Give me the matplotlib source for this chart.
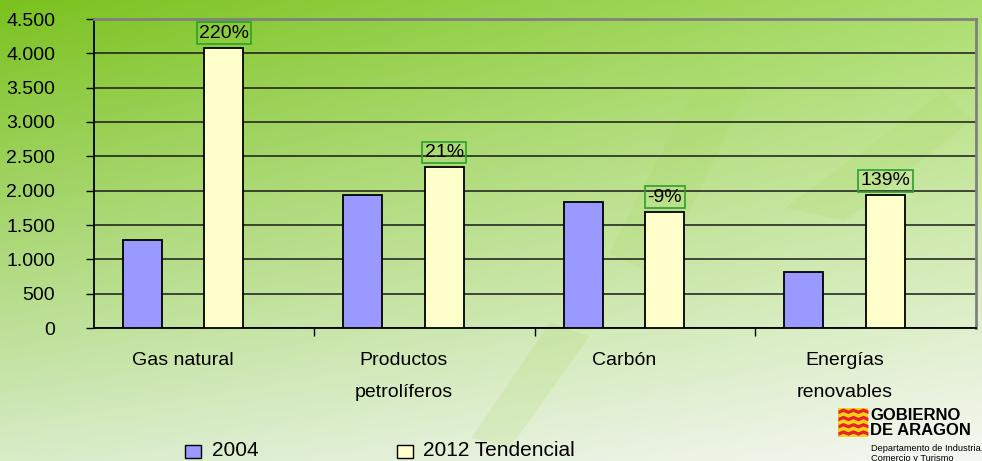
#!/usr/bin/env python3
"""Consumo de energia primaria: 2004 frente a 2012 tendencial."""

import matplotlib

matplotlib.use("Agg")
import matplotlib.pyplot as plt
import numpy as np
from matplotlib.patches import Rectangle, Polygon

plt.rcParams["font.family"] = ["Liberation Sans", "DejaVu Sans"]

CATEGORIES = ["Gas natural", "Productos\npetrolíferos", "Carbón", "Energías\nrenovables"]
VALUES_2004 = [1280, 1940, 1840, 810]
VALUES_2012 = [4080, 2340, 1690, 1930]
CHANGE_LABELS = ["220%", "21%", "-9%", "139%"]
SERIES_NAMES = ["2004", "2012 Tendencial"]
Y_TICKS = [0, 500, 1000, 1500, 2000, 2500, 3000, 3500, 4000, 4500]

COLOR_2004 = "#9999ff"
COLOR_2012 = "#ffffcc"
BOX_GREEN = "#2e9e2e"


def draw_background(fig):
    bg = fig.add_axes([0, 0, 1, 1], zorder=-10)
    h, w = 200, 400
    yy, xx = np.mgrid[0:1:h * 1j, 0:1:w * 1j]
    tl = np.array([122, 194, 30]) / 255
    tr = np.array([172, 222, 110]) / 255
    bl = np.array([216, 236, 200]) / 255
    br = np.array([245, 247, 243]) / 255
    img = (
        (1 - xx)[..., None] * (1 - yy)[..., None] * tl
        + xx[..., None] * (1 - yy)[..., None] * tr
        + (1 - xx)[..., None] * yy[..., None] * bl
        + xx[..., None] * yy[..., None] * br
    )
    bg.imshow(img, aspect="auto", extent=[0, 1, 0, 1], origin="upper")
    # faint decorative strokes
    for pts in [
        [(0.62, 0.45), (0.72, 0.86), (0.76, 0.80), (0.67, 0.40)],
        [(0.80, 0.55), (0.96, 0.80), (0.99, 0.74), (0.86, 0.52)],
        [(0.48, 0.05), (0.56, 0.30), (0.60, 0.27), (0.52, 0.03)],
    ]:
        bg.add_patch(Polygon(pts, closed=True, facecolor="#a8d860", alpha=0.18, lw=0))
    bg.set_xlim(0, 1)
    bg.set_ylim(0, 1)
    bg.axis("off")


def draw_logo(fig):
    lg = fig.add_axes([838 / 982, 1 - 437 / 461, 30 / 982, 29 / 461])
    lg.add_patch(Rectangle((0, 0), 1, 1, facecolor="#f7d117", lw=0))
    xs = np.linspace(0, 1, 7)
    for k in range(4):
        base = 0.06 + k * 0.25
        zig = base + 0.07 * (np.arange(7) % 2)
        lg.fill_between(xs, zig, zig + 0.12, color="#e3242b", lw=0)
    lg.set_xlim(0, 1)
    lg.set_ylim(0, 1)
    lg.axis("off")
    fig.text(870 / 982, 1 - 415 / 461, "GOBIERNO", fontsize=12, fontweight="bold",
             va="center", ha="left", color="black")
    fig.text(870 / 982, 1 - 430 / 461, "DE ARAGON", fontsize=12, fontweight="bold",
             va="center", ha="left", color="black")
    fig.text(871 / 982, 1 - 448 / 461, "Departamento de Industria,", fontsize=6.7,
             va="center", ha="left", color="black")
    fig.text(871 / 982, 1 - 458 / 461, "Comercio y Turismo", fontsize=6.7,
             va="center", ha="left", color="black")


def main():
    fig = plt.figure(figsize=(9.82, 4.61), dpi=100)
    draw_background(fig)

    ax = fig.add_axes([94 / 982, 1 - 328 / 461, (976 - 94) / 982, (328 - 19) / 461])
    ax.patch.set_alpha(0)

    x = np.arange(len(CATEGORIES))
    offset = 0.185
    width = 0.177
    ax.bar(x - offset, VALUES_2004, width, color=COLOR_2004, edgecolor="black",
           linewidth=1.3, zorder=3)
    bars = ax.bar(x + offset, VALUES_2012, width, color=COLOR_2012, edgecolor="black",
                  linewidth=1.3, zorder=3)

    for bar, label in zip(bars, CHANGE_LABELS):
        ax.annotate(
            label,
            (bar.get_x() + bar.get_width() / 2, bar.get_height()),
            xytext=(0, 4.5),
            textcoords="offset points",
            ha="center",
            va="bottom",
            fontsize=14,
            bbox=dict(boxstyle="square,pad=0.12", facecolor="none", edgecolor=BOX_GREEN, lw=1.2),
            zorder=4,
        )

    ax.set_ylim(0, 4500)
    ax.set_xlim(-0.404, 3.596)
    ax.set_yticks(Y_TICKS)
    ax.set_yticklabels([f"{v:,}".replace(",", ".") for v in Y_TICKS], fontsize=14)
    ax.yaxis.grid(True, color="#1a1a1a", linewidth=1.1, zorder=1)
    ax.set_axisbelow(True)

    ax.set_xticks(x)
    ax.set_xticklabels(CATEGORIES, fontsize=14, linespacing=2.15)
    ax.tick_params(axis="x", length=0, pad=17)
    ax.set_xticks(x[:-1] + 0.594, minor=True)
    ax.tick_params(axis="x", which="minor", length=6, width=1, color="black")
    ax.tick_params(axis="y", length=6, width=1, pad=22, color="black")

    for side in ["left", "bottom"]:
        ax.spines[side].set_color("black")
        ax.spines[side].set_linewidth(1.3)
    for side in ["top", "right"]:
        ax.spines[side].set_color("#808080")
        ax.spines[side].set_linewidth(2)

    # legend drawn at the bottom of the slide
    for (lx, tx), name, color in zip([(185, 212), (397, 423)], SERIES_NAMES,
                                     [COLOR_2004, COLOR_2012]):
        fig.patches.append(Rectangle((lx / 982, 1 - 458 / 461), 16 / 982, 13 / 461,
                                     transform=fig.transFigure, facecolor=color,
                                     edgecolor="black", lw=1))
        fig.text(tx / 982, 1 - 450 / 461, name, fontsize=15, va="center", ha="left")

    draw_logo(fig)
    fig.savefig("out.png", dpi=100)


if __name__ == "__main__":
    main()
